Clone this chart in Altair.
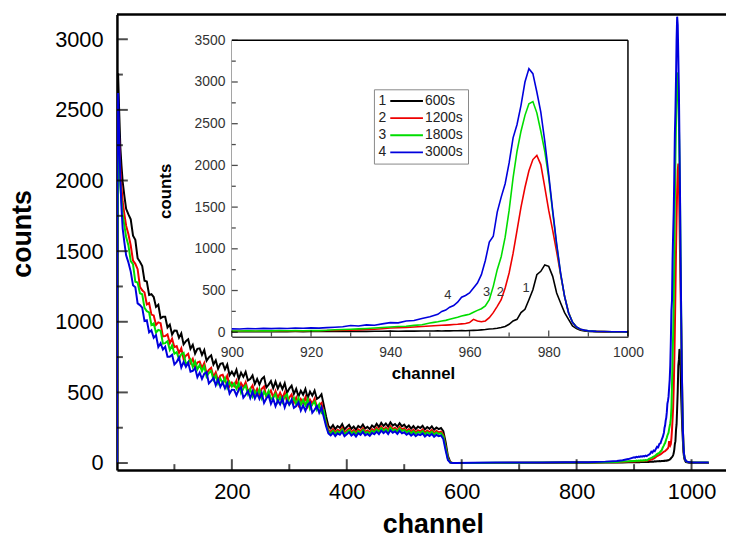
import altair as alt
import pandas as pd

SERIES = ["600s", "1200s", "1800s", "3000s"]
NUMS = ["1", "2", "3", "4"]
COLORS = ["#000000", "#ee0000", "#00dd00", "#0000dd"]

# ---- channel grid, continuum part (0..584) ----
CH_LOW = [0, 1, 2, 4, 6, 8, 10, 13, 16, 20] + list(range(24, 588, 4))

K_LOW = [
    # 0..20
    0, 1900, 2760, 2480, 2230, 2100, 1990, 1890, 1800, 1760,
    # 24..100
    1725, 1610, 1580, 1450, 1425, 1395, 1290, 1285, 1190, 1195,
    1175, 1105, 1120, 1025, 1035, 1035, 960, 980, 910, 938,
    # 104..200
    937, 887, 918, 840, 863, 876, 809, 837, 775, 808,
    812, 766, 800, 724, 748, 762, 697, 727, 667, 702,
    707, 662, 697, 622, 647,
    # 204..360
    620, 660, 595, 640, 610, 645, 585, 595, 620, 560,
    595, 555, 595, 610, 535, 555, 580, 530, 576, 527,
    563, 524, 565, 496, 527, 548, 489, 525, 471, 512,
    483, 524, 460, 506, 477, 513, 454, 465, 487, 410,
    # 364..584
    330, 262,
    245, 268, 240, 262, 250, 275, 238, 255, 270, 242,
    258, 236, 262, 250, 272, 244, 256, 240, 266, 252,
    278, 255, 285, 262, 280, 258, 288, 265, 276, 258,
    282, 260, 272, 250, 266, 244, 262, 240, 258, 248,
    264, 238, 255, 242, 260, 236, 252, 240,
    248, 225, 150, 50, 8, 0,
]
R_LOW = [
    0, 1700, 2450, 2280, 2080, 1950, 1850, 1760, 1680, 1620,
    1540, 1433, 1410, 1372, 1248, 1223, 1208, 1123, 1132, 1051,
    1045, 978, 996, 990, 897, 899, 911, 848, 880, 820,
    828, 779, 812, 736, 760, 774, 709, 738, 678, 712,
    718, 673, 708, 634, 659, 674, 610, 642, 583, 619,
    625, 581, 618, 544, 570,
    544, 584, 520, 566, 536, 572, 512, 523, 549, 489,
    525, 485, 526, 542, 467, 488, 513, 464, 510, 462,
    498, 460, 501, 433, 464, 486, 427, 464, 410, 452,
    423, 465, 401, 448, 419, 456, 397, 409, 425, 340,
    290, 235,
    220, 240, 215, 236, 226, 248, 214, 230, 244, 218,
    232, 212, 238, 226, 246, 220, 230, 216, 240, 228,
    250, 230, 258, 236, 252, 232, 260, 240, 250, 232,
    256, 236, 246, 226, 240, 220, 236, 216, 232, 224,
    238, 214, 230, 218, 234, 212, 228, 216,
    222, 200, 120, 35, 5, 0,
]
G_LOW = [
    0, 1500, 2200, 2150, 1960, 1850, 1760, 1680, 1600, 1540,
    1430, 1407, 1283, 1278, 1202, 1195, 1098, 1075, 1066, 977,
    988, 923, 942, 937, 846, 849, 862, 800, 833, 774,
    785, 737, 771, 780, 699, 714, 734, 679, 719, 663,
    694, 650, 685, 611, 637, 652, 589, 620, 562, 598,
    565, 601, 533, 574, 541,
    565, 526, 566, 497, 528, 549, 489, 525, 471, 512,
    482, 523, 459, 505, 475, 511, 452, 463, 489, 431,
    467, 429, 471, 487, 414, 435, 462, 414, 460, 412,
    448, 410, 452, 383, 415, 436, 378, 415, 355, 370,
    275, 222,
    210, 228, 204, 224, 214, 236, 204, 218, 232, 208,
    222, 202, 226, 214, 234, 210, 220, 206, 228, 218,
    238, 220, 246, 226, 240, 222, 248, 228, 238, 222,
    244, 226, 234, 216, 228, 210, 224, 206, 220, 214,
    226, 204, 218, 208, 222, 202, 216, 206,
    212, 190, 110, 30, 4, 0,
]
B_LOW = [
    0, 2000, 2620, 2300, 2000, 1800, 1660, 1560, 1470, 1420,
    1355, 1258, 1245, 1130, 1118, 1100, 1005, 1010, 925, 940,
    887, 905, 821, 848, 803, 823, 752, 752, 766, 698,
    715, 748, 676, 716, 681, 712, 647, 653, 673, 608,
    640, 596, 632, 643, 564, 581, 603, 550, 592, 539,
    571, 528, 565, 492, 519,
    518, 479, 520, 536, 462, 483, 509, 460, 506, 457,
    493, 454, 495, 426, 457, 478, 419, 455, 402, 444,
    415, 457, 394, 441, 413, 449, 391, 403, 430, 372,
    408, 370, 412, 429, 356, 377, 404, 356, 395, 325,
    260, 210,
    196, 214, 190, 210, 200, 222, 190, 204, 218, 194,
    208, 188, 212, 200, 220, 196, 206, 192, 214, 204,
    222, 204, 230, 212, 226, 206, 232, 214, 224, 206,
    228, 210, 218, 200, 212, 194, 208, 190, 204, 198,
    210, 188, 202, 192, 206, 186, 200, 190,
    195, 170, 90, 22, 3, 0,
]

# ---- channel grid, peak part (590..1030) ----
CH_PEAK = [
    590, 620, 660, 700, 740, 780, 820, 850,
    870, 880, 890, 900, 902, 904, 906, 908,
    910, 912, 914, 916, 918, 920, 922, 924,
    926, 928, 930, 932, 934, 936, 938, 940,
    942, 944, 946, 948, 950, 951, 952, 953,
    954, 955, 956, 957, 958, 959, 960, 961,
    962, 963, 964, 965, 966, 967, 968, 969,
    970, 971, 972, 973, 974, 975, 976, 977,
    978, 979, 980, 981, 982, 983, 984, 985,
    986, 987, 988, 989, 990, 992, 994, 996,
    998, 1000, 1010, 1020, 1030,
]
K_PEAK = [
    0, 0, 1, 1, 1, 2, 2, 3,
    3, 4, 5, 6, 5, 7, 6, 7,
    6, 8, 7, 8, 7, 9, 8, 9,
    8, 10, 9, 11, 10, 12, 11, 13,
    12, 14, 13, 15, 14, 15, 16, 15,
    17, 16, 18, 17, 19, 18, 20, 22,
    24, 28, 32, 38, 42, 48, 56, 70,
    95, 135, 155, 235, 275, 390, 510, 690,
    730, 807, 790, 670, 470, 350, 235, 155,
    75, 43, 24, 15, 8, 5, 3, 2,
    2, 1, 1, 1, 1,
]
R_PEAK = [
    0, 1, 1, 2, 2, 3, 3, 5,
    6, 8, 10, 12, 11, 13, 12, 14,
    13, 15, 14, 16, 15, 18, 17, 20,
    20, 23, 25, 28, 32, 36, 42, 50,
    53, 58, 62, 68, 75, 78, 80, 83,
    85, 88, 92, 95, 100, 105, 115, 155,
    135, 125, 135, 175, 235, 310, 390, 530,
    710, 945, 1220, 1500, 1735, 1935, 2070, 2120,
    2010, 1740, 1460, 1220, 965, 690, 430, 240,
    120, 62, 34, 23, 15, 10, 7, 5,
    4, 3, 2, 2, 2,
]
G_PEAK = [
    0, 1, 2, 2, 3, 3, 4, 6,
    8, 10, 12, 15, 14, 17, 15, 18,
    16, 19, 17, 20, 18, 21, 19, 23,
    30, 33, 36, 40, 45, 50, 56, 63,
    68, 72, 82, 90, 110, 118, 125, 135,
    142, 155, 168, 180, 195, 205, 215, 240,
    262, 282, 315, 390, 550, 750, 905, 1140,
    1460, 1850, 2170, 2410, 2600, 2740, 2765, 2630,
    2410, 2170, 1850, 1440, 1045, 700, 430, 235,
    122, 62, 35, 24, 16, 10, 8, 6,
    5, 4, 3, 3, 3,
]
B_PEAK = [
    0, 2, 3, 3, 4, 5, 6, 10,
    15, 20, 28, 40, 38, 44, 41, 46,
    43, 48, 45, 50, 47, 52, 49, 55,
    60, 66, 80, 74, 88, 84, 100, 115,
    112, 135, 140, 165, 185, 200, 215, 250,
    265, 300, 320, 360, 420, 440, 470, 530,
    590, 690, 860, 1080, 1150, 1440, 1620, 1780,
    2030, 2330, 2490, 2720, 3000, 3160, 3100, 2880,
    2640, 2290, 1890, 1460, 1060, 710, 430, 230,
    120, 63, 36, 25, 16, 10, 8, 6,
    5, 4, 3, 3, 3,
]

MAIN_X_MAJOR = [200, 400, 600, 800, 1000]
MAIN_X_MINOR = [100, 300, 500, 700, 900]
MAIN_Y_MAJOR = [0, 500, 1000, 1500, 2000, 2500, 3000]
MAIN_Y_MINOR = [250, 750, 1250, 1750, 2250, 2750]
INSET_X_MAJOR = [900, 920, 940, 960, 980, 1000]
INSET_X_MINOR = [910, 930, 950, 970, 990]
INSET_Y_MAJOR = [0, 500, 1000, 1500, 2000, 2500, 3000, 3500]
INSET_Y_MINOR = [250, 750, 1250, 1750, 2250, 2750, 3250]

ANNOT_TEXT = ["1", "2", "3", "4"]
ANNOT_X = [974.3, 967.8, 964.3, 954.5]
ANNOT_Y = [530, 480, 480, 440]

LOW = [K_LOW, R_LOW, G_LOW, B_LOW]
PEAK = [K_PEAK, R_PEAK, G_PEAK, B_PEAK]

frames = []
for s, lo, pk in zip(SERIES, LOW, PEAK):
    frames.append(pd.DataFrame({"channel": CH_LOW + CH_PEAK,
                                "counts": lo + pk,
                                "series": s}))
df = pd.concat(frames, ignore_index=True)

FONT = "Liberation Sans"

# ---------------- main plot ----------------
xs_main = alt.Scale(domain=[0, 1060], nice=False, zero=False)
ys_main = alt.Scale(domain=[-50, 3175], nice=False, zero=False)

x_axis_main = alt.Axis(values=MAIN_X_MAJOR, format="d", ticks=False, grid=False, domain=True,
                       domainColor="black", domainWidth=2.5, labelFontSize=22,
                       labelFont=FONT, labelColor="black", labelPadding=12,
                       labelFlush=False,
                       title="channel", titleFont=FONT, titleFontSize=27,
                       titleFontWeight="bold", titleColor="black",
                       titleX=319, titleY=55, titleAlign="center",
                       titleBaseline="middle")
y_axis_main = alt.Axis(values=MAIN_Y_MAJOR, format="d", ticks=False, grid=False, domain=True,
                       domainColor="black", domainWidth=2.5, labelFontSize=22,
                       labelFont=FONT, labelColor="black", labelPadding=14,
                       title="counts", titleFont=FONT, titleFontSize=27,
                       titleFontWeight="bold", titleColor="black",
                       titleX=-95, titleY=221, titleAlign="center",
                       titleBaseline="middle", titleAngle=270)

main_layers = []
for i, s in enumerate(SERIES):
    main_layers.append(
        alt.Chart(df[df.series == s]).mark_line(color=COLORS[i], strokeWidth=2, clip=True)
        .encode(x=alt.X("channel:Q", scale=xs_main, axis=x_axis_main),
                y=alt.Y("counts:Q", scale=ys_main, axis=y_axis_main))
    )

def tick_layer(vals, orient, size, xs, ys, anchor, width):
    d = pd.DataFrame({"v": vals})
    if orient == "vertical":
        return alt.Chart(d).mark_tick(orient="vertical", size=size, thickness=width,
                                      color="black", yOffset=-size / 2).encode(
            x=alt.X("v:Q", scale=xs), y=alt.datum(anchor, scale=ys))
    return alt.Chart(d).mark_tick(orient="horizontal", size=size, thickness=width,
                                  color="black", xOffset=size / 2).encode(
        y=alt.Y("v:Q", scale=ys), x=alt.datum(anchor, scale=xs))

main_layers += [
    tick_layer(MAIN_X_MAJOR, "vertical", 11, xs_main, ys_main, -50, 2),
    tick_layer(MAIN_X_MINOR, "vertical", 6, xs_main, ys_main, -50, 2),
    tick_layer(MAIN_Y_MAJOR, "horizontal", 11, xs_main, ys_main, 0, 2),
    tick_layer(MAIN_Y_MINOR, "horizontal", 6, xs_main, ys_main, 0, 2),
    alt.Chart(pd.DataFrame({"a": [0]})).mark_rule(color="black", strokeWidth=2.5).encode(
        x=alt.datum(0), x2=alt.datum(1060), y=alt.datum(3175)),
]
main = alt.layer(*main_layers)

# ---------------- inset ----------------
xs_in = alt.Scale(domain=[900, 1000], range=[116, 516], nice=False, zero=False)
ys_in = alt.Scale(domain=[-50, 3500], range=[325, 26], nice=False, zero=False)

x_axis_in = alt.Axis(orient="bottom", offset=-135, values=INSET_X_MAJOR, format="d",
                     ticks=False, grid=False, domainColor="black", domainWidth=1.5,
                     labelFontSize=14, labelFont=FONT, labelColor="#333333",
                     labelPadding=9, labelFlush=False,
                     title="channel", titleFont=FONT, titleFontSize=17,
                     titleFontWeight="bold", titleColor="black",
                     titleX=309, titleY=38, titleAlign="center", titleBaseline="middle")
y_axis_in = alt.Axis(orient="left", offset=-116, values=INSET_Y_MAJOR, format="d",
                     ticks=False, grid=False, domainColor="black", domainWidth=1.5,
                     labelFontSize=14, labelFont=FONT, labelColor="#333333",
                     labelPadding=7,
                     title="counts", titleFont=FONT, titleFontSize=17,
                     titleFontWeight="bold", titleColor="black",
                     titleX=-67, titleY=178, titleAlign="center",
                     titleBaseline="middle", titleAngle=270)

dfi = df[(df.channel >= 900) & (df.channel <= 1000)]
inset_layers = [
    alt.Chart(pd.DataFrame({"a": [0]})).mark_rect(fill="white").encode(
        x=alt.datum(900, scale=xs_in), x2=alt.datum(1000), y=alt.datum(-50, scale=ys_in),
        y2=alt.datum(3500)),
]
for i, s in enumerate(SERIES):
    inset_layers.append(
        alt.Chart(dfi[dfi.series == s]).mark_line(color=COLORS[i], strokeWidth=1.6)
        .encode(x=alt.X("channel:Q", scale=xs_in, axis=x_axis_in),
                y=alt.Y("counts:Q", scale=ys_in, axis=y_axis_in))
    )
inset_layers += [
    tick_layer(INSET_X_MAJOR, "vertical", 6, xs_in, ys_in, -50, 1.3),
    tick_layer(INSET_X_MINOR, "vertical", 4, xs_in, ys_in, -50, 1.3),
    tick_layer(INSET_Y_MAJOR, "horizontal", 6, xs_in, ys_in, 900, 1.3),
    tick_layer(INSET_Y_MINOR, "horizontal", 4, xs_in, ys_in, 900, 1.3),
    alt.Chart(pd.DataFrame({"a": [0]})).mark_rule(color="black", strokeWidth=1.5).encode(
        x=alt.datum(900), x2=alt.datum(1000), y=alt.datum(3500)),
    alt.Chart(pd.DataFrame({"a": [0]})).mark_rule(color="black", strokeWidth=1.5).encode(
        x=alt.datum(1000), y=alt.datum(-50), y2=alt.datum(3500)),
    alt.Chart(pd.DataFrame({"t": ANNOT_TEXT, "x": ANNOT_X, "y": ANNOT_Y}))
    .mark_text(font=FONT, fontSize=13, color="#333333")
    .encode(x="x:Q", y="y:Q", text="t:N"),
]

# legend box
inset_layers.append(
    alt.Chart(pd.DataFrame({"a": [0]})).mark_rect(fill="white", stroke="#888888",
                                                  strokeWidth=1).encode(
        x=alt.value(260), x2=alt.value(355), y=alt.value(76), y2=alt.value(151))
)
for i, s in enumerate(SERIES):
    yy = 87.3 + 17.3 * i
    one = pd.DataFrame({"n": [NUMS[i]], "s": [s]})
    inset_layers += [
        alt.Chart(one).mark_text(font=FONT, fontSize=14, color="#222222").encode(
            x=alt.value(268), y=alt.value(yy), text="n:N"),
        alt.Chart(one).mark_rule(color=COLORS[i], strokeWidth=1.8).encode(
            x=alt.value(276), x2=alt.value(309), y=alt.value(yy)),
        alt.Chart(one).mark_text(font=FONT, fontSize=14, color="#222222", align="left").encode(
            x=alt.value(311), y=alt.value(yy), text="s:N"),
    ]

inset = alt.layer(*inset_layers)

chart = (
    alt.layer(main, inset)
    .resolve_scale(x="independent", y="independent")
    .properties(width=615, height=460,
                autosize=alt.AutoSizeParams(type="none"),
                padding={"left": 110, "top": 4, "right": 0, "bottom": 70})
    .configure_view(stroke=None)
)

chart.save("out.html", embed_options={"renderer": "svg", "actions": False})
